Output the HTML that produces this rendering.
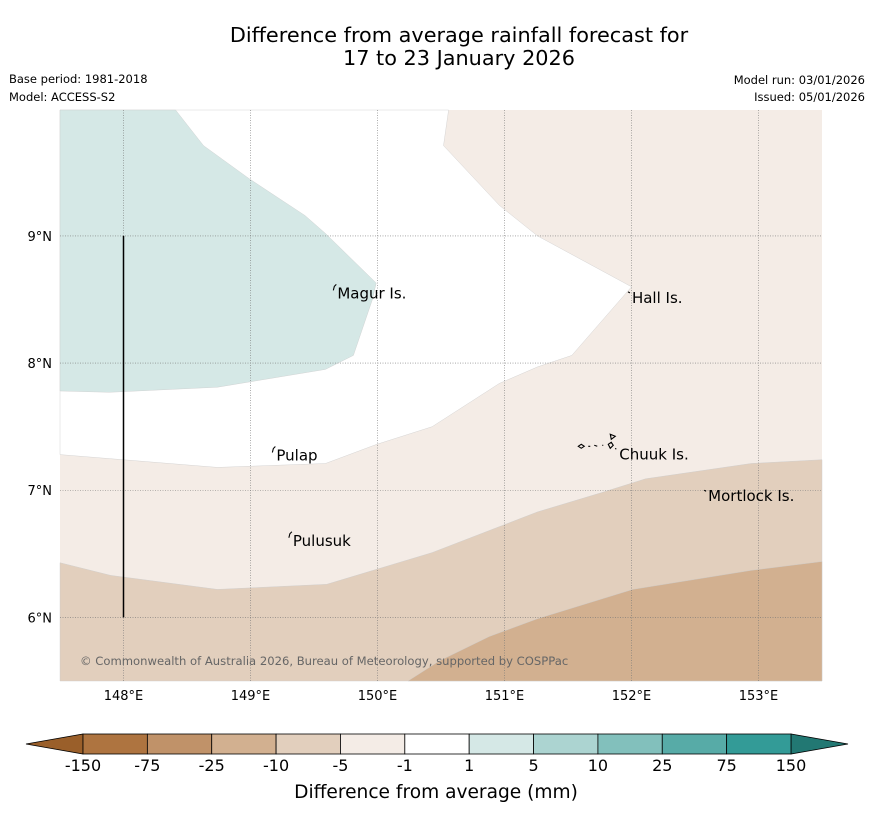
<!DOCTYPE html>
<html><head><meta charset="utf-8"><style>
body{margin:0;background:#fff;}
svg{display:block;font-family:"DejaVu Sans","Liberation Sans",sans-serif;}
</style></head><body>
<svg id="chart" width="873" height="816" viewBox="0 0 873 816">
<text x="459" y="42" font-size="20.8" text-anchor="middle">Difference from average rainfall forecast for</text>
<text x="459" y="65" font-size="20.8" text-anchor="middle">17 to 23 January 2026</text>
<text x="9" y="83" font-size="11.5">Base period: 1981-2018</text>
<text x="9" y="101" font-size="11.5">Model: ACCESS-S2</text>
<text x="865" y="84" font-size="11.5" text-anchor="end">Model run: 03/01/2026</text>
<text x="865" y="101" font-size="11.5" text-anchor="end">Issued: 05/01/2026</text>
<g id="map"></g>
<g id="cbar"></g>
<text x="436" y="798" font-size="18.6" text-anchor="middle">Difference from average (mm)</text>
</svg>
<script>
// Axis extents
const lonMin = 147.5, lonMax = 153.5, latMin = 5.5, latMax = 9.99;
const lonTicks = [148, 149, 150, 151, 152, 153];
const latTicks = [6, 7, 8, 9];
// Contour polygons (lon, lat)
const whiteLon = [147.5,150.56,150.52,150.96,151.26,152.0,151.53,151.26,150.96,150.43,149.99,149.59,148.74,147.5];
const whiteLat = [9.99,9.99,9.71,9.24,9.0,8.6,8.06,7.97,7.84,7.5,7.36,7.21,7.18,7.28];
const tealLon = [147.5,148.41,148.63,148.99,149.43,149.59,149.99,149.96,149.81,149.59,148.74,147.89,147.5];
const tealLat = [9.99,9.99,9.71,9.45,9.16,9.02,8.63,8.5,8.06,7.95,7.81,7.77,7.78];
const band10Lon = [147.5,147.9,148.74,149.6,150.43,151.26,151.76,152.11,152.94,153.5,153.5,147.5];
const band10Lat = [6.43,6.33,6.22,6.26,6.51,6.83,6.98,7.09,7.21,7.24,5.5,5.5];
const band25Lon = [150.24,150.49,150.88,151.26,152.01,152.94,153.5,153.5];
const band25Lat = [5.5,5.66,5.85,5.99,6.22,6.37,6.44,5.5];
// Islands
const islandNames = ["Magur Is.","Hall Is.","Pulap","Chuuk Is.","Mortlock Is.","Pulusuk"];
const islandLon = [149.66,151.98,149.18,151.88,152.58,149.31];
const islandLat = [8.595,8.56,7.32,7.33,7.0,6.65];
// Colorbar
const cbLabels = ["-150","-75","-25","-10","-5","-1","1","5","10","25","75","150"];
const cbColors = ["#ae7440","#c09269","#d2b090","#e2cfbd","#f4ece6","#ffffff","#d5e8e6","#acd4d1","#82c0bc","#57aba7","#339b97"];

const X0=60,X1=822,Y0=110,Y1=681;
const xs = lon => X0 + (lon-lonMin)/(lonMax-lonMin)*(X1-X0);
const ys = lat => Y1 - (lat-latMin)/(latMax-latMin)*(Y1-Y0);
const NS="http://www.w3.org/2000/svg";
const map=document.getElementById('map');
function mk(tag,attrs,parent){const e=document.createElementNS(NS,tag);for(const k in attrs)e.setAttribute(k,attrs[k]);parent.appendChild(e);return e;}
function poly(lons,lats,fill,name){
  const p=mk('polygon',{points:lons.map((l,i)=>xs(l).toFixed(1)+','+ys(lats[i]).toFixed(1)).join(' '),fill:fill,stroke:'#ccc','stroke-width':0.4},map);
  
  
}
const bg=mk('rect',{x:X0,y:Y0,width:X1-X0,height:Y1-Y0,fill:'#f4ece6'},map);


poly(whiteLon,whiteLat,'#ffffff','contour-near-average');
poly(tealLon,tealLat,'#d5e8e6','contour-wetter');
poly(band10Lon,band10Lat,'#e2cfbd','contour-drier-10');
poly(band25Lon,band25Lat,'#d2b090','contour-drier-25');
lonTicks.forEach(l=>{
  const g=mk('line',{x1:xs(l),x2:xs(l),y1:Y0,y2:Y1,stroke:'#777','stroke-width':0.6,'stroke-dasharray':'1,1.5'},map);
  
  
  const t=mk('text',{x:xs(l),y:700,'font-size':13,'text-anchor':'middle'},map);t.textContent=l+'°E';
  
  
});
latTicks.forEach(l=>{
  const g=mk('line',{x1:X0,x2:X1,y1:ys(l),y2:ys(l),stroke:'#777','stroke-width':0.6,'stroke-dasharray':'1,1.5'},map);
  
  
  const t=mk('text',{x:52,y:ys(l)+5,'font-size':13,'text-anchor':'end'},map);t.textContent=l+'°N';
  
  
});
const vl=mk('line',{x1:xs(148),x2:xs(148),y1:ys(9),y2:ys(6),stroke:'#000','stroke-width':1.5},map);


islandNames.forEach((n,i)=>{
  const x=xs(islandLon[i]),y=ys(islandLat[i]);
  let d;
  if(n==="Chuuk Is."){
    d=`M${x-38},${y-2} l3,-2 l3,2 l-3,2 z M${x-28},${y-2} l2,0 M${x-22},${y-3} l3,1 M${x-6},${y-14} l5,2 l-4,3 z M${x-8},${y-4} l3,-2 l2,3 l-3,3 z M${x-14},${y-3} l1,0 M${x-1},${y} l1,1`;
  } else if(n==="Hall Is."||n==="Mortlock Is."){
    d=`M${x-1},${y} l2,1`;
  } else {
    d=`M${x-1},${y+3} L${x},${y-1} L${x+2},${y-3}`;
  }
  const m=mk('path',{d:d,stroke:'#000','stroke-width':1.1,fill:'none'},map);
  
  
  const t=mk('text',{x:x+3,y:y+11,'font-size':15},map);t.textContent=n;
  
  
});
const cr=mk('text',{x:80,y:665,'font-size':11.6,fill:'#666'},map);
cr.textContent='© Commonwealth of Australia 2026, Bureau of Meteorology, supported by COSPPac';



const cb=document.getElementById('cbar');
const CB0=83,CB1=791,CBY=734,CBH=20,bw=(CB1-CB0)/cbColors.length;
const lt=mk('polygon',{points:`26,744 ${CB0},${CBY} ${CB0},${CBY+CBH}`,fill:'#9a5f2a',stroke:'#000','stroke-width':0.8},cb);


const rt=mk('polygon',{points:`848,744 ${CB1},${CBY} ${CB1},${CBY+CBH}`,fill:'#227873',stroke:'#000','stroke-width':0.8},cb);


cbColors.forEach((c,i)=>{
  const r=mk('rect',{x:CB0+i*bw,y:CBY,width:bw,height:CBH,fill:c,stroke:'#000','stroke-width':0.8},cb);
  
  
});
cbLabels.forEach((l,i)=>{
  const t=mk('text',{x:CB0+i*bw,y:771,'font-size':16,'text-anchor':'middle'},cb);t.textContent=l;
  
  
});
</script>
</body></html>
